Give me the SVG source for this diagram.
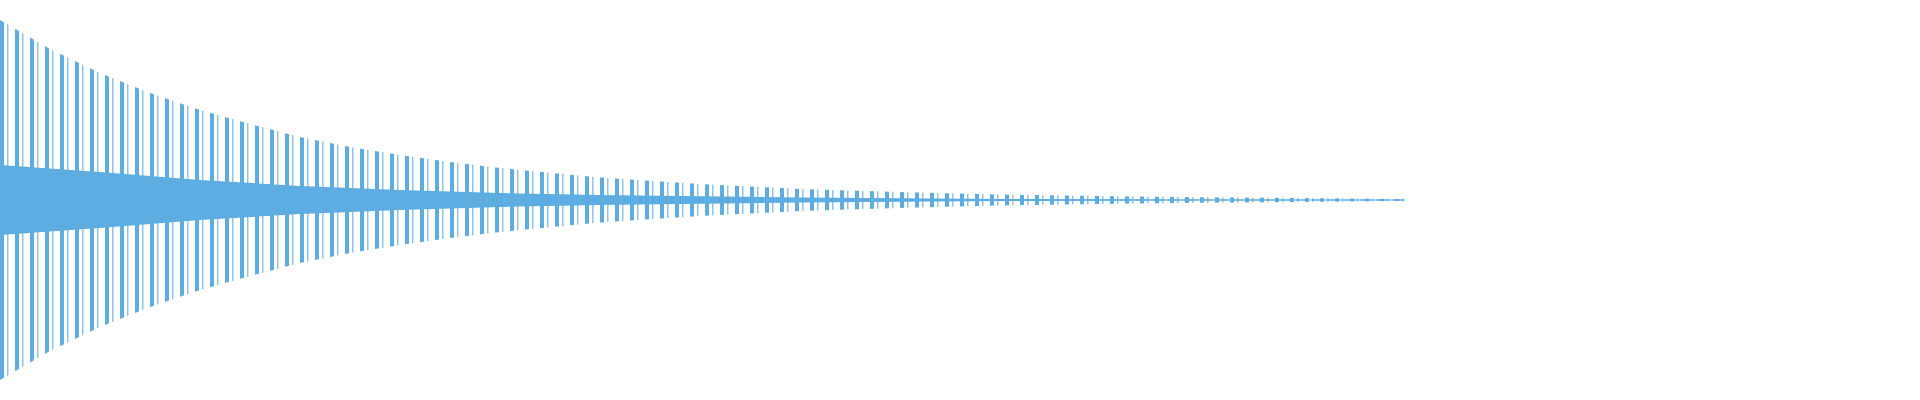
<svg xmlns="http://www.w3.org/2000/svg" width="1920" height="400" viewBox="0 0 1920 400">
<defs>
<style>.w{fill:#5dade2}</style>
<pattern id="st" x="0" y="0" width="15" height="400" patternUnits="userSpaceOnUse">
<rect x="0" y="0" width="4" height="400" fill="#5dade2"/>
<rect x="7" y="0" width="1.5" height="400" fill="#5dade2" opacity="0.7"/>
</pattern>
<clipPath id="env">
<polygon points="0,20 50,49 100,73 150,93 200,110 250,124 300,137 350,147 400,155 450,162 500,168 600,177.5 700,184 800,189 900,192 1000,194.4 1100,196 1200,197.2 1300,198 1405,199 1405,201 1300,202 1200,202.8 1100,204 1000,205.6 900,208 800,211 700,216 600,222.5 500,232 450,238 400,245 350,253 300,263 250,276 200,290 150,307 100,327 50,351 0,380"/>
</clipPath>
</defs>
<g id="waveform">
<rect x="0" y="0" width="1405" height="400" fill="url(#st)" clip-path="url(#env)"/>
<polygon class="w" points="0,165 100,172 200,180 300,186 400,190 500,193 600,195 800,197.5 1000,199 1405,199.6 1405,200.4 1000,201 800,202.5 600,205 500,207 400,210 300,214 200,220 100,228 0,235"/>
<line x1="0" y1="200" x2="1405" y2="200" stroke="#5dade2" stroke-width="1" stroke-dasharray="12 4"/>
</g>
</svg>
